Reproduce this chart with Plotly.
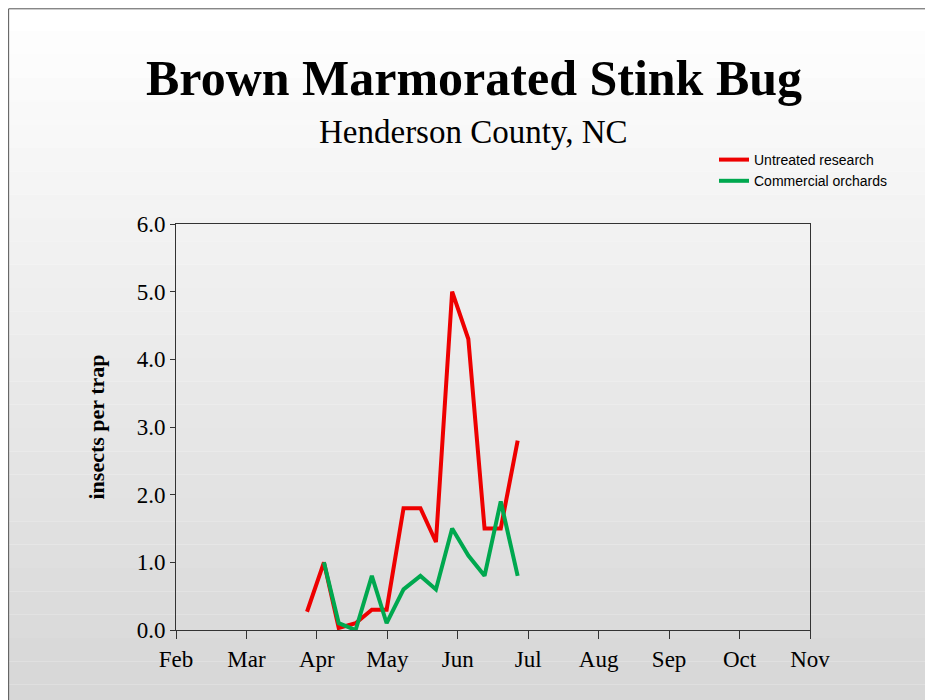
import plotly.graph_objects as go

months = ["Feb","Mar","Apr","May","Jun","Jul","Aug","Sep","Oct","Nov"]
red_x = [1.86,2.10,2.31,2.55,2.78,2.99,3.23,3.47,3.69,3.92,4.15,4.38,4.61,4.85]
red_y = [0.27,1.0,0.03,0.1,0.3,0.3,1.8,1.8,1.3,5.0,4.3,1.5,1.5,2.8]
green_x = red_x[1:]
green_y = [1.0,0.1,0.0,0.8,0.1,0.6,0.8,0.6,1.5,1.1,0.8,1.9,0.8]

L, R, T, B = 168, 131, 216, 78
PW, PH = 634, 406

fig = go.Figure()
fig.add_trace(go.Scatter(x=red_x, y=red_y, mode="lines", name="Untreated research",
                         line=dict(color="#ee0000", width=4)))
fig.add_trace(go.Scatter(x=green_x, y=green_y, mode="lines", name="Commercial orchards",
                         line=dict(color="#00a84f", width=4)))

shapes = []
n = 30
top = 1 + T / PH
span = 700 / PH
for i in range(n):
    g = int(255 - 40 * i / (n - 1))
    shapes.append(dict(type="rect", xref="paper", yref="paper", layer="below",
                       x0=-L/PW, x1=1+R/PW, y0=top-(i+1)*span/n, y1=top-i*span/n,
                       line=dict(width=0), fillcolor=f"rgb({g},{g},{g})"))
shapes.append(dict(type="rect", xref="paper", yref="paper", layer="below",
                   x0=-L/PW+0.001, x1=1+(R-10)/PW, y0=-(B-6)/PH, y1=top-0.002,
                   line=dict(color="#555", width=1), fillcolor="rgba(0,0,0,0)"))

fig.update_layout(
    width=933, height=700, margin=dict(l=L, r=R, t=T, b=B),
    paper_bgcolor="white", plot_bgcolor="rgba(0,0,0,0)", shapes=shapes,
    font=dict(family="Liberation Serif", color="black"),
    annotations=[
        dict(text="<b>Brown Marmorated Stink Bug</b>", xref="paper", yref="paper",
             x=0.47, y=1+(T-70)/PH, yanchor="middle", showarrow=False,
             font=dict(size=50, family="Liberation Serif")),
        dict(text="Henderson County, NC", xref="paper", yref="paper",
             x=0.47, y=1+(T-124)/PH, yanchor="middle", showarrow=False,
             font=dict(size=33, family="Liberation Serif")),
    ],
    legend=dict(x=(706-L)/PW, y=1+(T-136)/PH, xanchor="left", yanchor="top",
                bgcolor="rgba(0,0,0,0)", font=dict(family="Liberation Sans", size=14),
                itemwidth=30, tracegroupgap=8),
    xaxis=dict(range=[0, 9], tickvals=list(range(10)), ticktext=months,
               showgrid=False, zeroline=False, showline=True, linecolor="#333",
               mirror=True, ticks="outside", ticklen=8, tickcolor="#333",
               tickfont=dict(size=23)),
    yaxis=dict(range=[0, 6], dtick=1, tickformat=".1f", showgrid=False, zeroline=False,
               showline=True, linecolor="#333", mirror=True, ticks="outside", ticklen=5,
               tickcolor="#333", tickfont=dict(size=23),
               title=dict(text="<b>insects per trap</b>", font=dict(size=22), standoff=25)),
)
fig.write_html("out.html")
